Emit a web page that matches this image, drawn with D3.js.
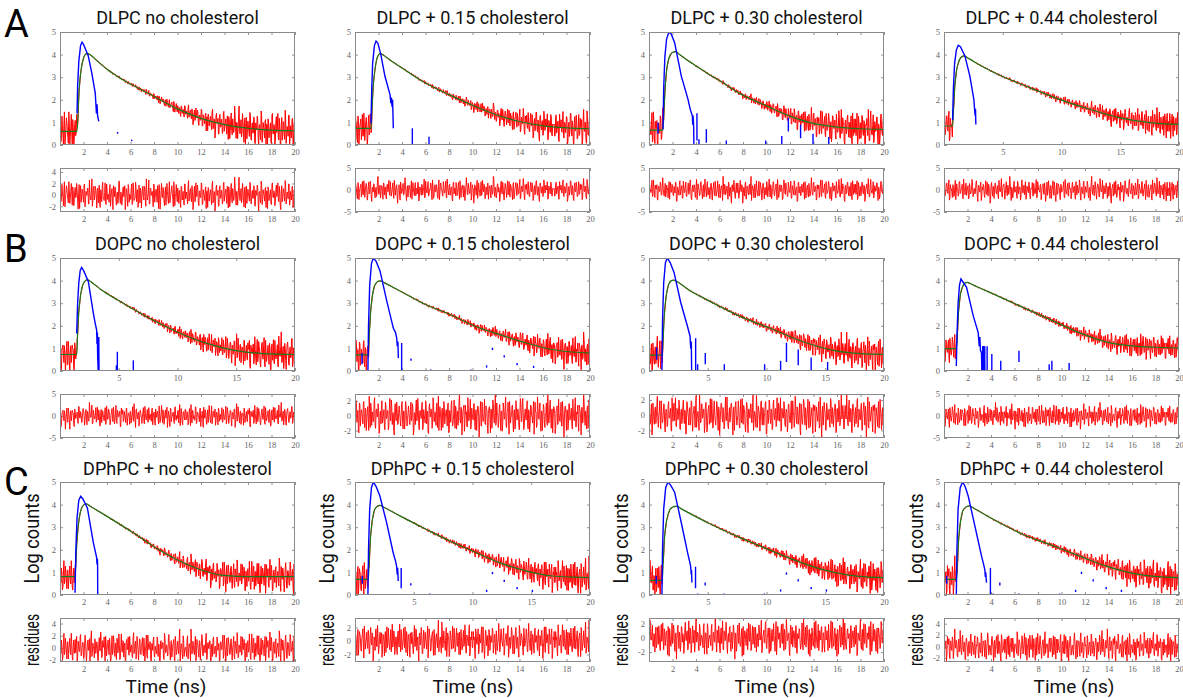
<!DOCTYPE html>
<html><head><meta charset="utf-8">
<script src="https://cdn.jsdelivr.net/npm/d3@7"></script>
<style>body{margin:0;background:#fff} svg{display:block}</style>
</head><body><svg id="c" width="1183" height="698"></svg>
<script>
// ---------- DATA ----------
const titles = ["DLPC no cholesterol","DLPC + 0.15 cholesterol","DLPC + 0.30 cholesterol","DLPC + 0.44 cholesterol",
  "DOPC no cholesterol","DOPC + 0.15 cholesterol","DOPC + 0.30 cholesterol","DOPC + 0.44 cholesterol",
  "DPhPC + no cholesterol","DPhPC + 0.15 cholesterol","DPhPC + 0.30 cholesterol","DPhPC + 0.44 cholesterol"];
const rowLetters = ["A","B","C"];
const xTicks2 = [2,4,6,8,10,12,14,16,18,20];
const xTicks5 = [5,10,15,20];
const mainYTicks = [0,1,2,3,4,5];
const mainXTickSet = [2,2,2,5, 5,2,5,2, 2,5,5,2];
const residDomains = [[-3,4.7],[-5,5],[-5,5],[-5,5],[-5,5],[-3,2.9],[-3,2.8],[-5,5],[-2.3,4.9],[-3.1,3.4],[-3.4,2.8],[-2.7,5]];
const residTicks = [[-2,0,2,4],[-5,0,5],[-5,0,5],[-5,0,5],[-5,0,5],[-2,0,2],[-2,0,2],[-5,0,5],[-2,0,2,4],[-2,0,2],[-2,0,2],[-2,0,2,4]];
const residOffsets = [0,37,74,111,148,185,222,19,56,93,130,167];
const residOffsets2 = [120,201,13,88,163,44,139,230,71,176,5,104];

// fitted decay curves (green): [time ns, log counts]
const fit_DLPC_0  = [[0,0.6],[1.45,0.6],[1.55,1.6],[1.65,2.6],[1.8,3.35],[1.95,3.75],[2.1,3.97],[2.3,4.05],[2.6,3.98],[3,3.8],[4,3.35],[5,3.0],[6,2.7],[8,2.15],[10,1.6],[12,1.18],[14,0.9],[16,0.74],[18,0.66],[20,0.63]];
const fit_DLPC_15 = [[0,0.74],[1.36,0.74],[1.45,1.6],[1.55,2.6],[1.7,3.35],[1.85,3.8],[2.0,3.98],[2.15,4.05],[2.5,3.95],[3,3.75],[4,3.41],[6,2.74],[8,2.23],[10,1.76],[12,1.34],[14,1.04],[16,0.85],[18,0.76],[20,0.72]];
const fit_DLPC_30 = [[0,0.66],[1.19,0.66],[1.28,1.6],[1.38,2.6],[1.52,3.4],[1.7,3.85],[1.95,4.08],[2.27,4.13],[2.6,4.0],[3,3.85],[4,3.5],[4.88,3.2],[6,2.85],[7.86,2.24],[10,1.73],[12,1.28],[13.7,0.99],[15.9,0.8],[18,0.72],[20,0.69]];
const fit_DLPC_44 = [[0,0.84],[0.73,0.84],[0.82,1.7],[0.92,2.6],[1.05,3.25],[1.2,3.6],[1.4,3.85],[1.69,3.94],[2.2,3.8],[3,3.55],[4.89,3.05],[7.29,2.54],[9.83,2.02],[12.4,1.58],[14.9,1.21],[17.5,0.99],[20,0.91]];
const fit_DOPC_0  = [[0,0.73],[1.42,0.73],[1.5,1.7],[1.6,2.6],[1.75,3.35],[1.9,3.75],[2.1,3.97],[2.33,4.04],[2.7,3.92],[3.5,3.6],[4.88,3.15],[7.38,2.4],[9.93,1.74],[12.5,1.22],[14.75,0.92],[17.3,0.77],[20,0.73]];
const fit_DOPC_15 = [[0,0.71],[1.13,0.71],[1.22,1.6],[1.32,2.55],[1.47,3.3],[1.65,3.75],[1.9,3.95],[2.13,3.99],[2.5,3.9],[3.83,3.54],[5.96,2.95],[8.09,2.5],[10.2,1.98],[12.3,1.61],[14.6,1.24],[16.9,0.94],[18.5,0.84],[20,0.79]];
const fit_DOPC_30 = [[0,0.7],[1.13,0.7],[1.22,1.6],[1.32,2.6],[1.47,3.35],[1.65,3.8],[1.9,4.0],[2.13,4.02],[2.5,3.92],[3.5,3.55],[4.82,3.18],[7.66,2.44],[10.5,1.85],[13.3,1.26],[15.9,0.89],[18,0.77],[20,0.74]];
const fit_DOPC_44 = [[0,0.99],[1.07,0.99],[1.15,1.8],[1.25,2.7],[1.4,3.4],[1.6,3.75],[1.8,3.9],[1.98,3.92],[2.5,3.8],[3.9,3.48],[6.44,2.88],[9.27,2.22],[11.5,1.7],[13.8,1.29],[16.0,1.11],[18,1.05],[20,1.02]];
const fit_DPhPC_0  = [[0,0.81],[1.28,0.81],[1.37,1.7],[1.47,2.6],[1.62,3.35],[1.8,3.8],[2.0,3.98],[2.21,4.04],[2.6,3.92],[3.97,3.49],[6.24,2.75],[7.94,2.16],[9.93,1.57],[11.9,1.13],[13.9,0.87],[16.2,0.81],[20,0.81]];
const fit_DPhPC_15 = [[0,0.69],[1.13,0.69],[1.22,1.6],[1.32,2.55],[1.47,3.3],[1.65,3.75],[1.9,3.93],[2.12,3.97],[2.5,3.87],[3.82,3.5],[6.08,2.9],[8.06,2.39],[10.0,1.95],[12.3,1.43],[14.6,1.06],[16.8,0.84],[18.5,0.79],[20,0.77]];
const fit_DPhPC_30 = [[0,0.65],[1.13,0.65],[1.22,1.6],[1.32,2.55],[1.5,3.3],[1.75,3.75],[2.05,3.9],[2.38,3.93],[2.8,3.8],[5,3.2],[7.7,2.55],[10,2.05],[12.5,1.52],[14.8,1.12],[17,0.88],[18.5,0.8],[20,0.77]];
const fit_DPhPC_44 = [[0,0.69],[1.07,0.69],[1.16,1.6],[1.26,2.55],[1.42,3.3],[1.62,3.75],[1.9,3.9],[2.15,3.94],[2.6,3.82],[4.18,3.35],[6.72,2.68],[8.98,2.24],[11.5,1.73],[13.8,1.28],[16.6,0.91],[18.5,0.8],[20,0.77]];

// instrument response (blue): [time ns, log counts]
const irf_DLPC_0  = [[1.45,1.4],[1.5,2.6],[1.6,3.7],[1.75,4.4],[1.87,4.55],[2.0,4.45],[2.2,4.2],[2.4,3.95],[2.7,3.2],[3.0,2.3],[3.1,1.4],[3.15,1.8],[3.2,1.3],[3.3,1.05]];
const irf_DLPC_15 = [[1.36,0.96],[1.42,2.4],[1.5,3.6],[1.65,4.4],[1.79,4.6],[1.95,4.5],[2.2,4.0],[2.55,3.04],[2.98,2.23],[3.05,1.85],[3.1,2.1],[3.15,1.7],[3.2,2.0],[3.26,0.74]];
const irf_DLPC_30 = [[1.19,0.7],[1.25,2.5],[1.35,3.9],[1.5,4.7],[1.7,5.0],[1.9,4.9],[2.18,4.53],[2.75,3.05],[3.32,2.02],[3.5,1.6],[3.69,1.28],[3.72,0.9],[3.75,1.3],[3.8,0.84],[3.82,0]];
const irf_DLPC_44 = [[0.73,1.1],[0.8,2.5],[0.9,3.6],[1.05,4.2],[1.21,4.41],[1.4,4.35],[1.78,3.94],[2.2,3.05],[2.54,2.02],[2.6,1.6],[2.65,1.3],[2.68,1.6],[2.71,0.91]];
const irf_DOPC_0  = [[1.42,1.66],[1.5,3.0],[1.6,3.9],[1.72,4.45],[1.84,4.58],[2.0,4.45],[2.41,3.96],[2.84,2.55],[3.0,2.1],[3.12,1.81],[3.15,1.2],[3.18,1.7],[3.2,0.77],[3.25,0],[3.3,1.5],[3.32,0]];
const irf_DOPC_15 = [[1.1,0],[1.15,2.0],[1.25,3.8],[1.4,4.75],[1.56,5.0],[1.8,4.85],[2.13,4.43],[2.7,3.1],[3.26,1.9],[3.45,1.7],[3.55,1.46],[3.6,1.1],[3.65,1.3],[3.69,0.57]];
const irf_DOPC_30 = [[1.1,0],[1.15,2.2],[1.25,3.9],[1.4,4.8],[1.56,5.0],[1.8,4.8],[2.13,4.36],[2.7,3.03],[3.26,2.0],[3.49,1.55],[3.55,1.0],[3.6,1.3],[3.63,0]];
const irf_DOPC_44 = [[1.05,0.22],[1.1,1.5],[1.2,3.0],[1.32,3.8],[1.44,4.07],[1.6,3.95],[1.92,3.7],[2.49,2.44],[2.91,1.7],[3.0,1.1],[3.05,1.5],[3.1,0.9],[3.19,0.81],[3.22,0],[3.3,1.1],[3.35,0],[3.4,1.1],[3.45,0]];
const irf_DPhPC_0  = [[1.28,0.1],[1.35,2.0],[1.45,3.4],[1.6,4.2],[1.76,4.37],[1.95,4.25],[2.33,3.85],[2.84,2.31],[3.12,1.65],[3.15,1.35],[3.18,1.6],[3.2,1.35],[3.21,0]];
const irf_DPhPC_15 = [[1.1,0],[1.15,2.0],[1.25,3.8],[1.4,4.75],[1.56,5.0],[1.8,4.8],[2.12,4.38],[2.69,3.2],[3.25,1.87],[3.45,1.5],[3.54,1.28],[3.6,0.9],[3.63,1.2],[3.68,0.62]];
const irf_DPhPC_30 = [[1.1,0],[1.15,2.0],[1.25,3.8],[1.42,4.75],[1.61,5.0],[1.85,4.85],[2.18,4.55],[2.74,3.22],[3.31,1.81],[3.45,1.5],[3.54,1.29],[3.6,0.9],[3.62,1.1],[3.65,0.55]];
const irf_DPhPC_44 = [[1.05,0],[1.1,2.0],[1.2,3.8],[1.38,4.75],[1.58,5.0],[1.8,4.8],[2.06,4.38],[2.63,3.05],[3.19,1.73],[3.35,1.4],[3.47,1.14],[3.52,0.8],[3.55,1.0],[3.62,0.55]];

// isolated instrument-response counts (blue): [time, low, high]
const stray_DLPC_0  = [[4.9,0.5,0.58],[6.1,0.17,0.23]];
const stray_DLPC_15 = [[4.88,0,0.74],[6.3,0,0.37]];
const stray_DLPC_30 = [[0.77,0.5,1.0],[4.08,0.2,1.4],[4.25,0,0.25],[4.88,0.1,0.7],[6.58,0,0.2],[9.93,0,0.2],[11.3,0,0.4],[11.86,0.6,1.2],[12.9,0.3,0.9],[13.96,0,0.5],[15.3,0,0.35]];
const stray_DLPC_44 = [];
const stray_DOPC_0  = [[4.88,0,0.85],[4.8,0,0.25],[6.24,0,0.47]];
const stray_DOPC_15 = [[0.6,0.3,0.8],[3.97,0,1.24],[4.77,0.45,0.55],[6.44,0,0.07],[9.87,0,0.07],[11.2,0.15,0.25],[11.7,0.93,1.03],[12.7,0.6,0.7],[13.8,0.25,0.35],[15.2,0.13,0.23]];
const stray_DOPC_30 = [[0.65,0.5,1.05],[3.97,0,1.45],[4.14,0,0.3],[4.79,0.3,0.8],[6.41,0,0.3],[9.84,0,0.3],[11.2,0,0.45],[11.7,0.4,1.25],[12.7,0.25,0.95],[13.8,0,0.6],[15.2,0,0.4]];
const stray_DOPC_44 = [[3.47,0,1.1],[3.67,0,1.1],[4.07,0,0.75],[4.83,0,0.45],[6.38,0.4,0.9],[8.95,0,0.3],[9.18,0,0.45],[10.65,0,0.35]];
const stray_DPhPC_0  = [];
const stray_DPhPC_15 = [[0.62,0.5,0.85],[3.93,0.3,1.2],[4.75,0.42,0.52],[6.37,0,0.06],[11.2,0.13,0.23],[11.7,0.92,1.02],[12.7,0.57,0.67],[13.8,0.25,0.35],[15.1,0.13,0.23]];
const stray_DPhPC_30 = [[0.62,0.5,0.85],[3.96,0.3,1.25],[4.16,0,0.05],[4.78,0.42,0.55],[6.39,0,0.05],[9.82,0,0.05],[11.2,0.15,0.25],[11.7,0.9,1.0],[12.7,0.6,0.7],[13.8,0.25,0.35],[15.1,0.15,0.25]];
const stray_DPhPC_44 = [[0.23,0.5,0.85],[3.95,0,1.2],[4.18,0,0.05],[4.75,0.42,0.55],[6.38,0,0.05],[9.83,0,0.05],[11.2,0.13,0.23],[11.7,0.93,1.03],[12.7,0.6,0.7],[13.8,0.25,0.35],[15.1,0.13,0.23]];

// weighted residuals (estimated trace, shared sample set)
const residuals = [
0.4,-1.2,1.8,-0.3,0.9,-2.1,0.2,1.1,-0.7,2.3,-1.5,0.6,-0.1,1.4,-1.9,0.8,-0.5,2.0,-1.1,0.3,
-2.4,1.6,-0.2,0.7,-1.3,1.9,-0.8,0.1,1.2,-1.6,2.6,-0.4,0.5,-2.0,1.0,-0.9,1.5,-0.2,0.8,-1.4,
1.7,-2.2,0.3,1.3,-0.6,-1.0,2.1,-1.7,0.9,0.0,-1.3,1.8,-0.5,1.1,-2.6,0.6,1.4,-0.9,0.2,-1.5,
2.4,-0.7,0.5,-1.8,1.0,-0.3,1.6,-1.1,0.7,-2.0,1.3,0.1,-0.8,1.9,-1.4,0.4,-0.6,2.2,-1.2,0.9,
-1.7,0.3,1.2,-2.3,0.8,-0.4,1.5,-1.0,2.8,-0.9,0.2,-1.6,1.1,-0.1,0.6,-2.1,1.7,-0.5,1.0,-1.3,
0.4,1.8,-2.5,0.7,-0.2,1.3,-1.1,0.5,-1.8,2.0,-0.6,0.9,-1.4,0.1,1.6,-0.8,2.3,-1.9,0.3,-0.4,
1.2,-1.5,0.8,-2.2,1.4,0.0,-1.0,1.9,-0.7,0.5,-1.6,2.5,-0.3,1.1,-1.2,0.6,-2.0,1.5,-0.9,0.2,
1.7,-1.3,0.4,-0.5,2.1,-1.7,0.9,-0.2,1.0,-2.4,0.7,1.3,-1.1,0.3,-0.8,1.8,-1.4,0.6,-3.0,1.2,
-0.1,0.8,-1.9,1.6,-0.6,0.2,-1.2,2.2,-0.4,1.0,-1.5,0.5,1.4,-2.1,0.9,-0.7,1.1,-1.0,3.1,-0.3,
0.6,-1.8,1.3,-0.5,0.1,-1.4,2.0,-0.9,0.7,-2.3,1.5,-0.2,0.4,-1.1,1.9,-1.6,0.8,-0.6,1.2,-2.0,
0.3,1.7,-1.3,0.5,-0.8,2.4,-1.7,0.9,-0.1,1.1,-2.2,0.6,1.4,-1.0,0.2,-1.5,1.8,-0.4,0.7,-1.9,
1.0,-0.3,2.1,-1.2,0.4,-2.6,1.6,-0.7,0.8,-1.1,1.3,-0.5,0.0,1.9,-1.8,0.6,-0.9,1.5,-1.4,0.3];

const fits = [fit_DLPC_0,fit_DLPC_15,fit_DLPC_30,fit_DLPC_44,fit_DOPC_0,fit_DOPC_15,fit_DOPC_30,fit_DOPC_44,fit_DPhPC_0,fit_DPhPC_15,fit_DPhPC_30,fit_DPhPC_44];
const irfs = [irf_DLPC_0,irf_DLPC_15,irf_DLPC_30,irf_DLPC_44,irf_DOPC_0,irf_DOPC_15,irf_DOPC_30,irf_DOPC_44,irf_DPhPC_0,irf_DPhPC_15,irf_DPhPC_30,irf_DPhPC_44];
const strays = [stray_DLPC_0,stray_DLPC_15,stray_DLPC_30,stray_DLPC_44,stray_DOPC_0,stray_DOPC_15,stray_DOPC_30,stray_DOPC_44,stray_DPhPC_0,stray_DPhPC_15,stray_DPhPC_30,stray_DPhPC_44];

// ---------- LAYOUT ----------
const svg = d3.select("#c");
const colLeft = [60, 355, 649, 944], plotW = 235;
const rowTop = [32, 258, 482], mainH = 113, residOff = 136, residH = 44;
const titleBase = [24, 250, 475];
const letterBase = [37, 262, 495];
const xLabelX = [166, 473, 775, 1074];
const tickFont = "'Liberation Serif', 'DejaVu Serif', serif";
const sansFont = "Roboto, 'Noto Sans', sans-serif";

const defs = svg.append("defs");
const n = residuals.length;
const nS = 2 * n;
const sampleT = d3.range(nS).map(i => i * 20 / (nS - 1));

function frame(g, x, y, xt, yt, id) {
  const [x0, x1] = x.range(), [y1, y0] = y.range();
  defs.append("clipPath").attr("id", id).append("rect")
    .attr("x", x0).attr("y", y0).attr("width", x1 - x0).attr("height", y1 - y0);
  const fmt = d => String(d);
  const styleAx = a => {
    a.select(".domain").remove();
    a.selectAll(".tick line").attr("stroke", "#777").attr("stroke-width", 0.8);
    a.selectAll(".tick text").attr("font-family", tickFont).attr("font-size", 8.5).attr("fill", "#666");
  };
  g.append("g").attr("transform", `translate(0,${y1})`)
    .call(d3.axisBottom(x).tickValues(xt).tickSize(-3).tickPadding(4).tickFormat(fmt)).call(styleAx);
  g.append("g").attr("transform", `translate(0,${y0})`)
    .call(d3.axisTop(x).tickValues(xt).tickSize(-3).tickFormat("")).call(styleAx);
  g.append("g").attr("transform", `translate(${x0},0)`)
    .call(d3.axisLeft(y).tickValues(yt).tickSize(-3).tickPadding(4).tickFormat(fmt)).call(styleAx);
  g.append("g").attr("transform", `translate(${x1},0)`)
    .call(d3.axisRight(y).tickValues(yt).tickSize(-3).tickFormat("")).call(styleAx);
}
function box(g, x, y) {
  const [x0, x1] = x.range(), [y1, y0] = y.range();
  g.append("rect").attr("x", x0 + 0.5).attr("y", y0 + 0.5).attr("width", x1 - x0 - 1).attr("height", y1 - y0 - 1)
    .attr("fill", "none").attr("stroke", "#8a8a8a").attr("stroke-width", 1);
}

titles.forEach((title, p) => {
  const r = Math.floor(p / 4), c = p % 4;
  const L = colLeft[c], T = rowTop[r], RT = T + residOff;
  const x = d3.scaleLinear().domain([0, 20]).range([L, L + plotW]);
  const y = d3.scaleLinear().domain([0, 5]).range([T + mainH, T]);
  const yr = d3.scaleLinear().domain(residDomains[p]).range([RT + residH, RT]);
  const g = svg.append("g");

  // residual series for this panel: the typed trace read forward and backward, interleaved
  const off = residOffsets[p], off2 = residOffsets2[p];
  const res = d3.range(nS).map(i => {
    const k = Math.floor(i / 2);
    return i % 2 === 0 ? residuals[(k + off) % n] : residuals[((off2 - k) % n + n) % n];
  });

  // fit as piecewise scale
  const fit = fits[p];
  const fitScale = d3.scaleLinear().domain(fit.map(d => d[0])).range(fit.map(d => d[1])).clamp(true);
  const dataPts = sampleT.map((t, i) => {
    const f = fitScale(t);
    const v = f + res[i] * 0.75 / Math.sqrt(Math.pow(10, f));
    return [t, Math.max(0, Math.min(5, v))];
  });

  // main plot
  frame(g, x, y, mainXTickSet[p] === 2 ? xTicks2 : xTicks5, mainYTicks, "cm" + p);
  const main = g.append("g").attr("clip-path", `url(#cm${p})`);
  main.append("path").datum(dataPts).attr("fill", "none").attr("stroke", "#ff0000").attr("stroke-width", 1)
    .attr("d", d3.line().x(d => x(d[0])).y(d => y(d[1])));
  main.append("path").datum(fit).attr("fill", "none").attr("stroke", "#1a7a1a").attr("stroke-width", 1.2)
    .attr("d", d3.line().x(d => x(d[0])).y(d => y(d[1])).curve(d3.curveMonotoneX));
  main.append("path").datum(irfs[p]).attr("fill", "none").attr("stroke", "#0000ff").attr("stroke-width", 1.4)
    .attr("d", d3.line().x(d => x(d[0])).y(d => y(d[1])));
  main.selectAll("line.s").data(strays[p]).join("line")
    .attr("x1", d => x(d[0])).attr("x2", d => x(d[0]))
    .attr("y1", d => y(d[1])).attr("y2", d => Math.min(y(d[1]) - 1.5, y(d[2])))
    .attr("stroke", "#0000ff").attr("stroke-width", 1.4);
  box(g, x, y);

  // residual plot
  frame(g, x, yr, xTicks2, residTicks[p], "cr" + p);
  g.append("g").attr("clip-path", `url(#cr${p})`).append("path")
    .datum(res.map((v, i) => [sampleT[i], v]))
    .attr("fill", "none").attr("stroke", "#ff0000").attr("stroke-width", 0.9)
    .attr("d", d3.line().x(d => x(d[0])).y(d => yr(d[1])));
  box(g, x, yr);

  // title
  svg.append("text").attr("x", L + plotW / 2).attr("y", titleBase[r]).attr("text-anchor", "middle")
    .attr("font-family", sansFont).attr("font-size", 18).attr("fill", "#111").text(title);

  if (r === 2) {
    svg.append("text").attr("transform", `translate(${L - 21},${T + mainH / 2}) rotate(-90)`)
      .attr("text-anchor", "middle").attr("font-family", sansFont).attr("font-size", 20).attr("fill", "#111")
      .attr("textLength", 90).attr("lengthAdjust", "spacingAndGlyphs").text("Log counts");
    svg.append("text").attr("transform", `translate(${L - 21},${RT + residH / 2}) rotate(-90)`)
      .attr("text-anchor", "middle").attr("font-family", sansFont).attr("font-size", 20).attr("fill", "#111")
      .attr("textLength", 52).attr("lengthAdjust", "spacingAndGlyphs").text("residues");
    svg.append("text").attr("x", xLabelX[c]).attr("y", 693).attr("text-anchor", "middle")
      .attr("font-family", sansFont).attr("font-size", 19).attr("fill", "#111").text("Time (ns)");
  }
});

rowLetters.forEach((l, r) => {
  svg.append("text").attr("x", 4).attr("y", letterBase[r]).attr("font-family", sansFont)
    .attr("font-size", 38).attr("fill", "#000").text(l);
});
</script>
</body></html>
